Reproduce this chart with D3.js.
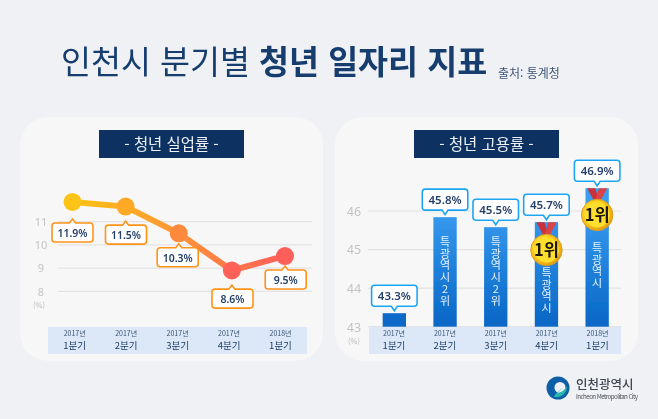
<!DOCTYPE html>
<html lang="ko"><head><meta charset="utf-8">
<script src="https://cdn.jsdelivr.net/npm/d3@7"></script>
<style>html,body{margin:0;padding:0;background:#f0f1f4}svg{display:block}text{font-family:"Noto Sans CJK KR","Noto Sans",sans-serif}</style>
</head><body><svg id="c" width="658" height="419"></svg>
<script>
const years = ["2017년","2017년","2017년","2017년","2018년"];
const quarters = ["1분기","2분기","3분기","4분기","1분기"];
const lineTicks = [8,9,10,11];
const barTicks = [43,44,45,46];
// heights as drawn against the printed axes (the source graphic is not strictly to scale)
const unemployment = [11.85,11.65,10.5,8.9,9.52];
const unemploymentLabels = ["11.9%","11.5%","10.3%","8.6%","9.5%"];
const employment = [43.35,45.84,45.58,45.71,46.59];
const employmentLabels = ["43.3%","45.8%","45.5%","45.7%","46.9%"];
const barNotes = ["","특광역시","특광역시","특광역시","특광역시"];
const barRanks = ["","2위","2위","",""];
const medals = ["","","","1위","1위"];
const dotColors = ["#fdc312","#ffa928","#ff8a3c","#ff6058","#ff5f5a"];

const svg = d3.select("#c");
const defs = svg.append("defs");
const navy = "#0b3362";
const lg = defs.append("linearGradient").attr("id","lineG").attr("gradientUnits","userSpaceOnUse").attr("x1",72).attr("x2",285).attr("y1",0).attr("y2",0);
[[0,"#fdc312"],[.35,"#ffa42c"],[.7,"#ff7d45"],[1,"#ff5f5a"]].forEach(s=>lg.append("stop").attr("offset",s[0]).attr("stop-color",s[1]));
const bg = defs.append("linearGradient").attr("id","barG").attr("gradientUnits","userSpaceOnUse").attr("x1",0).attr("x2",0).attr("y1",205).attr("y2",327);
bg.append("stop").attr("offset",0).attr("stop-color","#3a9df0");
bg.append("stop").attr("offset",1).attr("stop-color","#0766c6");
const mg = defs.append("radialGradient").attr("id","medG").attr("cx",.42).attr("cy",.4).attr("r",.62);
[[0,"#fff27a"],[.55,"#ffd21f"],[.85,"#f2ae12"],[1,"#d99a1c"]].forEach(s=>mg.append("stop").attr("offset",s[0]).attr("stop-color",s[1]));
defs.append("filter").attr("id","soft").append("feGaussianBlur").attr("stdDeviation",.3);

const root = svg.append("g").attr("filter","url(#soft)");
const title = root.append("text").attr("x",61).attr("y",74).attr("font-size",32.6).attr("fill","#123c6e");
title.append("tspan").text("인천시 분기별 ");
title.append("tspan").attr("font-weight",700).text("청년 일자리 지표");
root.append("text").attr("x",498).attr("y",78).attr("font-size",12).attr("fill","#3d5675").text("출처: 통계청");

function panel(x,w,hx,hw,label){
  root.append("rect").attr("x",x).attr("y",117).attr("width",w).attr("height",244).attr("rx",28).attr("fill","#f7f7f8");
  root.append("rect").attr("x",hx).attr("y",130).attr("width",hw).attr("height",28).attr("fill",navy);
  root.append("text").attr("x",hx+hw/2).attr("y",149.5).attr("text-anchor","middle").attr("font-size",15.4).attr("fill","#eef2f7").text(label);
}
panel(20,303,99,145,"- 청년 실업률 -");
panel(335,303,414,145,"- 청년 고용률 -");

function grid(sc,ticks,x1,x2,labelX,fs){
  const a = d3.axisLeft(sc).tickValues(ticks).tickSize(0).tickFormat(d3.format("d"));
  const g = root.append("g").attr("transform",`translate(${labelX},0)`).call(a);
  g.select(".domain").remove();
  g.selectAll("text").attr("x",0).attr("dy",".35em").attr("text-anchor","middle").attr("font-size",fs).attr("fill","#c3c4c6").style("font-family",'"Noto Sans","Noto Sans CJK KR"');
  root.selectAll(null).data(ticks).enter().append("line").attr("x1",x1).attr("x2",x2).attr("y1",sc).attr("y2",sc).attr("stroke","#e3e3e4").attr("stroke-width",1.2);
}
function band(x,w,sc){
  root.append("rect").attr("x",x).attr("y",327).attr("width",w).attr("height",27).attr("fill","#dce8f7");
  root.selectAll(null).data(years).enter().append("text").attr("x",(d,i)=>sc(i)).attr("y",335.8).attr("text-anchor","middle").attr("font-size",7).attr("fill","#3a5475").text(d=>d);
  root.selectAll(null).data(quarters).enter().append("text").attr("x",(d,i)=>sc(i)).attr("y",349).attr("text-anchor","middle").attr("font-size",9.5).attr("fill","#1d3e68").text(d=>d);
}
function callout(cx,boxTop,w,h,tipX,tipY,color,label,fs){
  const x0=cx-w/2,x1=cx+w/2,y0=boxTop,y1=boxTop+h,r=3,up=tipY<y0;
  const p = d3.path();
  p.moveTo(x0+r,y0);
  if(up){p.lineTo(tipX-3,y0);p.lineTo(tipX,tipY);p.lineTo(tipX+3,y0);}
  p.lineTo(x1-r,y0);p.quadraticCurveTo(x1,y0,x1,y0+r);p.lineTo(x1,y1-r);p.quadraticCurveTo(x1,y1,x1-r,y1);
  if(!up){p.lineTo(tipX+3,y1);p.lineTo(tipX,tipY);p.lineTo(tipX-3,y1);}
  p.lineTo(x0+r,y1);p.quadraticCurveTo(x0,y1,x0,y1-r);p.lineTo(x0,y0+r);p.quadraticCurveTo(x0,y0,x0+r,y0);p.closePath();
  root.append("path").attr("d",p.toString()).attr("fill","#fff").attr("stroke",color).attr("stroke-width",1.6);
  root.append("text").attr("x",cx).attr("y",y0+h/2+4.3).attr("text-anchor","middle").attr("font-size",fs).attr("font-weight",600).attr("fill","#243f69").style("font-family",'"Noto Sans","Noto Sans CJK KR"').text(label);
}

/* left chart */
const ly = d3.scaleLinear().domain([8,11]).range([291.3,221.7]);
const lx = d3.scalePoint().domain(d3.range(5)).range([72.5,285]);
const lband = d3.scalePoint().domain(d3.range(5)).range([74.7,280.5]);
grid(ly,lineTicks,58,312,41,11);
root.append("text").attr("x",39).attr("y",308).attr("text-anchor","middle").attr("font-size",7.5).attr("fill","#bdbdbf").text("(%)");
band(48,259,lband);
root.append("path").attr("d",d3.line().x((d,i)=>lx(i)).y(d=>ly(d))(unemployment)).attr("fill","none").attr("stroke","url(#lineG)").attr("stroke-width",6);
root.selectAll(null).data(unemployment).enter().append("circle").attr("cx",(d,i)=>lx(i)).attr("cy",d=>ly(d)).attr("r",9).attr("fill",(d,i)=>dotColors[i]);
const lGap=[21,18.5,14.5,18.7,14], lCx=[72.5,126,177.7,232.5,285.7];
unemploymentLabels.forEach((t,i)=>{
  const top=ly(unemployment[i])+lGap[i];
  callout(lCx[i],top,41,19,lx(i),top-4,"#ff9318",t,10.5);
});

/* right chart */
const ry = d3.scaleLinear().domain([43,46]).range([326.7,211]);
const rx = d3.scaleBand().domain(d3.range(5)).range([369,622.5]).paddingInner(.54).paddingOuter(.27);
const rband = d3.scalePoint().domain(d3.range(5)).range([394,597.5]);
grid(ry,barTicks,368,621,354,12.5);
root.append("text").attr("x",354).attr("y",344).attr("text-anchor","middle").attr("font-size",7.5).attr("fill","#bdbdbf").text("(%)");
band(369,252,rband);
root.selectAll(null).data(employment).enter().append("rect").attr("x",(d,i)=>rx(i)).attr("width",rx.bandwidth()).attr("y",d=>ry(d)).attr("height",d=>ry(43)-ry(d)).attr("fill","url(#barG)");
const noteTop=[0,236,236,267,242], rankTop=[0,283,283,0,0];
function vertical(x,y,t){
  root.append("text").attr("x",x).attr("y",y).attr("font-size",11).attr("fill","#e9f3fd")
    .style("writing-mode","vertical-rl").style("text-orientation","upright").style("letter-spacing","0.9px").text(t);
}
barNotes.forEach((n,i)=>{
  const cx=rx(i)+rx.bandwidth()/2;
  if(n) vertical(cx,noteTop[i],n);
  if(barRanks[i]) vertical(cx,rankTop[i],barRanks[i]);
});
const medalCy=[0,0,0,250,215];
medals.forEach((m,i)=>{
  if(!m) return;
  const cx=rx(i)+rx.bandwidth()/2, top=ry(employment[i]), cy=medalCy[i];
  root.append("path").attr("d",`M${cx-10},${top}L${cx-2},${top}L${cx+3},${cy-12}L${cx-2},${cy-12}Z`).attr("fill","#c9323a");
  root.append("path").attr("d",`M${cx+10},${top}L${cx+2},${top}L${cx-3},${cy-12}L${cx+2},${cy-12}Z`).attr("fill","#dd4347");
  root.append("circle").attr("cx",cx).attr("cy",cy).attr("r",15.7).attr("fill","url(#medG)").attr("stroke","#d9a020").attr("stroke-width",1);
  root.append("circle").attr("cx",cx).attr("cy",cy).attr("r",12.5).attr("fill","#ffdf2e");
  root.append("text").attr("x",cx).attr("y",cy+6).attr("text-anchor","middle").attr("font-size",16.5).attr("font-weight",700).attr("fill","#1a1408").text(m);
});
employmentLabels.forEach((t,i)=>{
  const cx=rx(i)+rx.bandwidth()/2, tip=ry(employment[i])-2.5;
  callout(cx,tip-25.5,45.5,21,cx,tip,"#1fa6f2",t,11.5);
});

/* logo */
const lg0=root.append("g").attr("transform","translate(558,388)");
lg0.append("circle").attr("r",11.5).attr("fill","#0c5fa8");
lg0.append("circle").attr("cx",2).attr("cy",-.5).attr("r",5.5).attr("fill","#f0f1f4");
lg0.append("path").attr("d","M-4,9 C4,10 9,5 9,-2 C6,3 2,5 -1,5 C1,3 3,2 5,0 C2,2 -2,4 -4,9Z").attr("fill","#29b8ae");
root.append("text").attr("x",576).attr("y",389).attr("font-size",12.5).attr("font-weight",500).attr("fill","#3f4450").text("인천광역시");
root.append("text").attr("x",576).attr("y",399).attr("font-size",6.2).attr("fill","#4a4e58").attr("textLength",62).text("Incheon Metropolitan City");
</script></body></html>
